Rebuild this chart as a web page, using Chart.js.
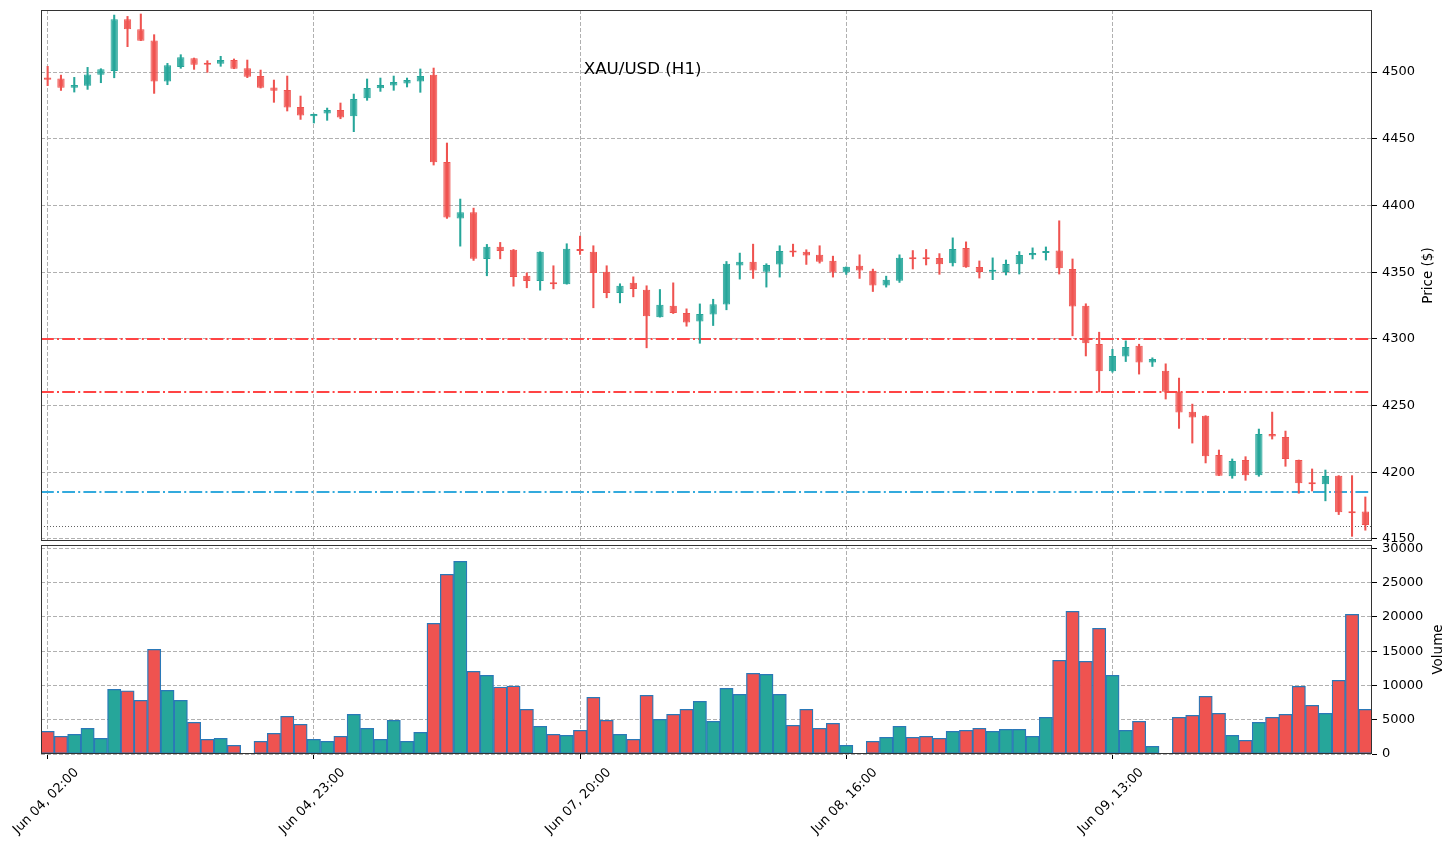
<!DOCTYPE html>
<html><head><meta charset="utf-8">
<script src="https://cdn.jsdelivr.net/npm/chart.js@4.4.1/dist/chart.umd.min.js"></script>
<style>
html,body{margin:0;padding:0;background:#fff;}
#wrap{position:relative;width:1455px;height:849px;background:#fff;}
canvas{position:absolute;left:0;}
#c1{top:0;} #c2{top:541px;}
</style></head><body>
<div id="wrap"><canvas id="c1" width="1455" height="545"></canvas><canvas id="c2" width="1455" height="308"></canvas></div>
<script>
// ---- data ----
const daySegments = [['Jun 04',2,21],['Jun 04',23,23],['Jun 05',0,18],['Jun 07',20,23],['Jun 08',0,21],['Jun 08',23,23],['Jun 09',0,21],['Jun 09',23,23],['Jun 10',0,9]];
const categories = [];
for (const [day, h0, h1] of daySegments) for (let h = h0; h <= h1; h++) categories.push(day + ', ' + String(h).padStart(2, '0') + ':00');
const tickIndices = [0, 20, 40, 60, 80];

const opens = [4496,4495.2,4488.2,4489.7,4498,4500.8,4539.5,4532,4523.7,4493,
4503.8,4510.3,4506.8,4506.3,4509,4502.8,4497,4488.5,4486.5,4473.8,
4466.8,4469,4471.5,4466.8,4480.3,4487.8,4490,4491.5,4493,4498,
4432.5,4390.3,4395,4359.8,4369,4366.8,4347.3,4343.3,4342,4341,
4367,4365.3,4350.3,4334.3,4342,4336.8,4316.3,4324.8,4319.3,4313,
4318.2,4325.8,4355,4357.8,4350.3,4355.8,4366,4365.3,4363,4358.5,
4349.8,4354.8,4351,4340,4343.5,4360.8,4360.2,4360.7,4356.6,4368.2,
4353.9,4350.4,4350.1,4355.9,4362.7,4364.4,4366.2,4352.4,4324.8,4296.2,
4275.7,4286.8,4294.8,4282.3,4276.1,4260.3,4245.4,4242.4,4213,4197,
4209.2,4197.8,4228.7,4226.4,4209.2,4192.3,4191,4197.5,4170.6,4170.6];
const highs = [4504.3,4497.7,4496,4503.5,4502.5,4542.7,4541.7,4543.5,4528,4506.5,
4513,4510.5,4508.5,4511.8,4509.8,4509,4501.5,4494,4497,4482,
4468.5,4473,4476.8,4483.5,4494.8,4495.5,4497,4495.5,4502.3,4503,
4446.8,4404.8,4398,4370.8,4372.3,4367,4349.5,4365.3,4354.8,4371.3,
4377,4369.8,4354.8,4341.3,4346.5,4339.8,4337,4342,4322.5,4326.2,
4329.7,4358,4364.3,4371,4356.3,4369.8,4371,4366.8,4369.8,4362,
4354,4363,4352.3,4347,4363,4366.2,4367,4363.9,4375.7,4372.7,
4358.4,4360.7,4359.1,4365.4,4368.2,4368.9,4388.5,4359.9,4326.3,4305,
4292.2,4298.5,4296,4285.8,4281.3,4270.6,4251.1,4242.4,4216.7,4210,
4211.7,4232.4,4245.1,4230.9,4209.2,4202.5,4201.7,4197.5,4197.5,4181.5];
const lows = [4489.8,4486.2,4485,4487,4492,4495.7,4519,4523.5,4484,4490.5,
4502.8,4502,4499.8,4504.3,4502.5,4495.8,4488,4477.3,4470.8,4464.5,
4461.8,4463.8,4465,4455.3,4478.8,4485.5,4486.3,4488.8,4484.8,4430.3,
4390.3,4369.5,4358.8,4347.3,4360,4339.5,4338.3,4336.5,4337.5,4341,
4363.3,4323.3,4330.8,4327,4331.5,4293.3,4316.3,4319,4309.5,4296.7,
4310,4321.8,4344.8,4345.3,4338.8,4346.3,4361.8,4355.8,4356.8,4346.3,
4348.3,4345.3,4335.5,4338.8,4342.3,4352.4,4355.4,4348.4,4354.6,4353.6,
4345.6,4344.4,4347.9,4348.6,4359.9,4359.1,4348.6,4302.3,4287.2,4260.2,
4275,4283,4273.6,4279.3,4254.9,4232.9,4221.9,4207,4197.5,4195.5,
4194,4197,4224.9,4204.5,4184.3,4186,4178.6,4168.3,4152,4156.6];
const closes = [4494.3,4488.2,4490.2,4498.2,4502,4539.5,4532,4523.5,4493,4505,
4511,4505.5,4505.5,4509,4502.5,4496.5,4488.3,4486,4473.5,4467.5,
4468.5,4471.5,4466,4479.8,4488,4490.3,4492.5,4494,4497,4432.3,
4391,4395,4360,4369,4365.8,4346.3,4343.3,4365.3,4341,4367.5,
4365.8,4349.3,4334.3,4339.8,4337.3,4317,4325.5,4319.3,4312.3,4318.7,
4326,4356.3,4357.8,4351.3,4355.3,4365.8,4364.8,4362.5,4357.8,4349.8,
4354,4351.3,4340,4344.3,4360.8,4359.6,4359.6,4355.9,4367.4,4353.6,
4350.1,4350.9,4356.1,4362.9,4364.4,4365.4,4352.9,4324.3,4296.7,4275.7,
4287.2,4294,4282.3,4285,4260.3,4244.9,4241.1,4212,4197.5,4208.5,
4197.8,4228.7,4226.9,4210,4191.8,4191,4197.3,4170,4169.3,4160.4];
const volumes = [3300,2580,2870,3740,2280,9430,9230,7830,15260,9280,
7830,4620,2140,2280,1260,0,1850,3010,5490,4330,
2140,1850,2580,5780,3740,2140,4910,1850,3160,19050,
26200,28090,12050,11470,9770,9910,6510,4030,2870,2720,
3450,8260,4910,2870,2140,8550,5050,5780,6510,7680,
4760,9570,8700,11760,11620,8700,4180,6510,3740,4470,
1260,0,1850,2430,4030,2430,2580,2280,3300,3450,
3740,3300,3600,3600,2580,5350,13660,20800,13510,18320,
11470,3450,4760,1120,0,5350,5640,8410,5930,2720,
1990,4620,5350,5780,9870,7100,5930,10740,20360,6510];
const priceTicks = [4150, 4200, 4250, 4300, 4350, 4400, 4450, 4500];
const volumeTicks = [0, 5000, 10000, 15000, 20000, 25000, 30000];
const redLevels = [4300, 4260];
const blueLevels = [4185];
const dottedLevels = [4160];
const chartTitle = 'XAU/USD (H1)';
const priceLabel = 'Price ($)';
const volumeLabel = 'Volume';

// ---- styles ----
const UP = '#26a69a', DOWN = '#ef5350';
const UP_FILL = 'rgba(38,166,154,0.9)', DOWN_FILL = 'rgba(239,83,80,0.9)';
const FONT = "'DejaVu Sans', sans-serif";
const GRID = '#b0b0b0';
const isUp = i => closes[i] >= opens[i];
const isTick = i => tickIndices.includes(i);
const zeroPad = s => { s.paddingLeft = 0; s.paddingRight = 0; s.paddingTop = 0; s.paddingBottom = 0; };

const framePlugin = {
  id: 'frame',
  afterDraw(chart) {
    const {ctx, chartArea: a} = chart;
    ctx.save();
    ctx.strokeStyle = '#333';
    ctx.lineWidth = 1;
    ctx.strokeRect(a.left + 0.5, a.top + 0.5, a.right - a.left - 1, a.bottom - a.top - 1);
    ctx.restore();
  }
};

function axisTitle(chart, text, x) {
  const {ctx, chartArea: a} = chart;
  ctx.save();
  ctx.fillStyle = '#000';
  ctx.font = '13.5px ' + FONT;
  ctx.textAlign = 'center';
  ctx.textBaseline = 'middle';
  ctx.translate(x, (a.top + a.bottom) / 2);
  ctx.rotate(-Math.PI / 2);
  ctx.fillText(text, 0, 0);
  ctx.restore();
}

const levelsPlugin = {
  id: 'levels',
  beforeDatasetsDraw(chart) {
    const {ctx, chartArea: a, scales: {y}} = chart;
    const line = (v, color, w, dash) => {
      const py = Math.round(y.getPixelForValue(v)) + (w % 2 ? 0.5 : 0);
      ctx.save();
      ctx.strokeStyle = color; ctx.lineWidth = w; ctx.setLineDash(dash);
      ctx.beginPath(); ctx.moveTo(a.left, py); ctx.lineTo(a.right, py); ctx.stroke();
      ctx.restore();
    };
    dottedLevels.forEach(v => line(v, 'rgba(60,60,60,0.8)', 1, [1, 2]));
    redLevels.forEach(v => line(v, '#ff4444', 2, [12.8, 3.2, 2, 3.2]));
    blueLevels.forEach(v => line(v, '#33aadd', 2, [12.8, 3.2, 2, 3.2]));
  },
  afterDraw(chart) {
    const {ctx, chartArea: a} = chart;
    ctx.save();
    ctx.fillStyle = '#000';
    ctx.font = '16.7px ' + FONT;
    ctx.textAlign = 'center';
    ctx.textBaseline = 'middle';
    ctx.fillText(chartTitle, a.left + 0.452 * (a.right - a.left), 70);
    ctx.restore();
    axisTitle(chart, priceLabel, 1428);
  }
};

const xGrid = {
  color: c => isTick(c.index) ? GRID : 'rgba(0,0,0,0)',
  lineWidth: 1,
  tickColor: c => isTick(c.index) ? '#000' : 'rgba(0,0,0,0)',
};

Chart.defaults.font.family = FONT;
Chart.defaults.color = '#000';

new Chart(document.getElementById('c1'), {
  type: 'bar',
  data: {
    labels: categories,
    datasets: [
      {
        label: 'wick',
        data: categories.map((_, i) => [lows[i], highs[i]]),
        backgroundColor: categories.map((_, i) => isUp(i) ? UP : DOWN),
        barThickness: 1.4,
        grouped: false,
        order: 2
      },
      {
        label: 'body',
        data: categories.map((_, i) => [opens[i], closes[i]]),
        backgroundColor: categories.map((_, i) => isUp(i) ? UP_FILL : DOWN_FILL),
        borderColor: categories.map((_, i) => isUp(i) ? UP : DOWN),
        borderWidth: 1,
        borderSkipped: false,
        barPercentage: 0.55,
        categoryPercentage: 1,
        minBarLength: 2,
        grouped: false,
        order: 1
      }
    ]
  },
  options: {
    responsive: false, animation: false, devicePixelRatio: 1,
    layout: {padding: {left: 41, top: 10, right: 0, bottom: 4}},
    plugins: {legend: {display: false}, tooltip: {enabled: false}, title: {display: false}},
    scales: {
      x: {
        type: 'category', offset: true,
        grid: Object.assign({drawTicks: false, offset: false}, xGrid),
        border: {display: false, dash: [4, 2]},
        ticks: {display: false},
        afterFit(s) { s.height = 0; zeroPad(s); }
      },
      y: {
        position: 'right', min: 4148.5, max: 4546.5,
        afterBuildTicks(s) { s.ticks = priceTicks.map(v => ({value: v})); },
        grid: {color: GRID, lineWidth: 1, tickLength: 5, tickColor: '#000'},
        border: {display: false, dash: [4, 2]},
        ticks: {font: {size: 13}, color: '#000', padding: 5, callback: v => String(v)},
        afterFit(s) { s.width = 83; zeroPad(s); }
      }
    }
  },
  plugins: [levelsPlugin, framePlugin]
});

const volTitlePlugin = {
  id: 'volTitle',
  afterDraw(chart) { axisTitle(chart, volumeLabel, 1438); }
};

new Chart(document.getElementById('c2'), {
  type: 'bar',
  data: {
    labels: categories,
    datasets: [{
      label: 'volume',
      data: volumes,
      backgroundColor: categories.map((_, i) => isUp(i) ? UP : DOWN),
      borderColor: '#2a78b8',
      borderWidth: 1.3,
      borderSkipped: false,
      barPercentage: 1,
      categoryPercentage: 1
    }]
  },
  options: {
    responsive: false, animation: false, devicePixelRatio: 1,
    layout: {padding: {left: 41, top: 4, right: 0, bottom: 0}},
    plugins: {legend: {display: false}, tooltip: {enabled: false}},
    scales: {
      x: {
        type: 'category', offset: true,
        grid: Object.assign({drawTicks: true, tickLength: 5, offset: false}, xGrid),
        border: {display: false, dash: [4, 2]},
        ticks: {
          autoSkip: false, maxRotation: 45, minRotation: 45,
          font: {size: 13}, color: '#000', padding: 6, labelOffset: 29,
          callback: (v, i) => isTick(i) ? categories[i] : ''
        },
        afterFit(s) { s.height = 95; zeroPad(s); }
      },
      y: {
        position: 'right', min: 0, max: 30480,
        afterBuildTicks(s) { s.ticks = volumeTicks.map(v => ({value: v})); },
        grid: {color: GRID, lineWidth: 1, tickLength: 5, tickColor: '#000'},
        border: {display: false, dash: [4, 2]},
        ticks: {font: {size: 13}, color: '#000', padding: 5, callback: v => String(v)},
        afterFit(s) { s.width = 83; zeroPad(s); }
      }
    }
  },
  plugins: [volTitlePlugin, framePlugin]
});
</script></body></html>
